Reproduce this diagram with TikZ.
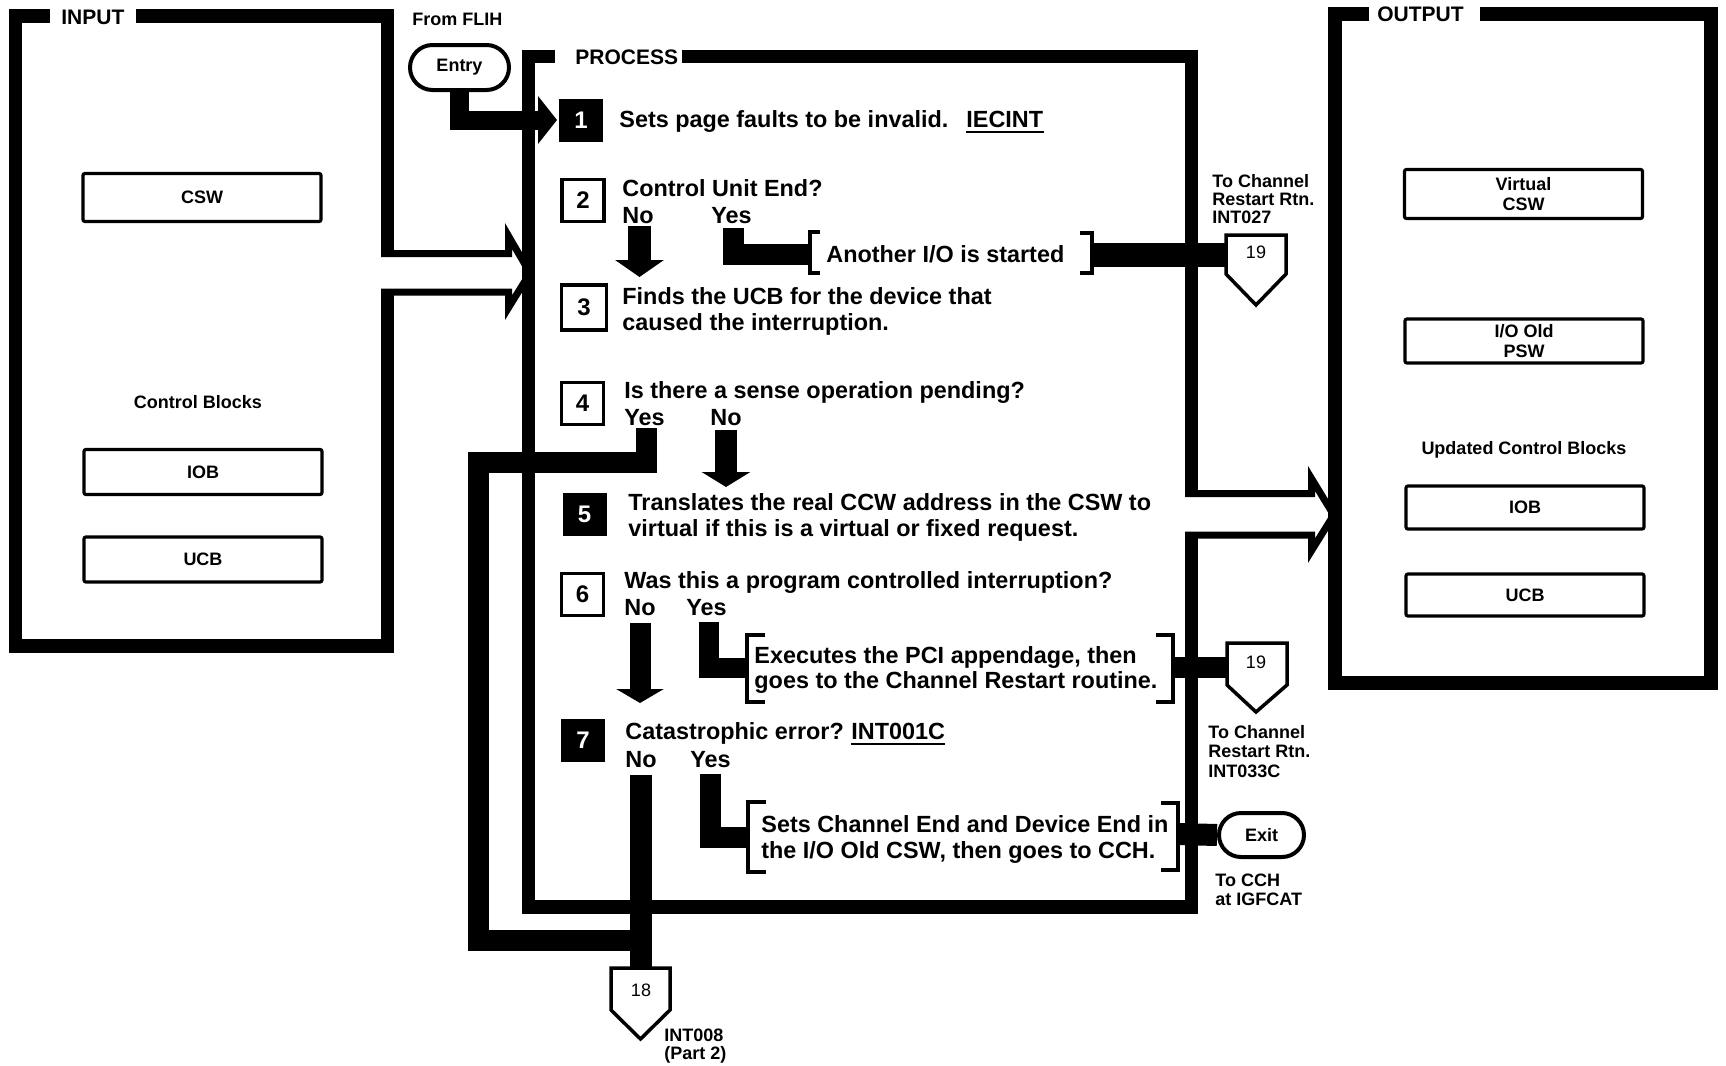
\documentclass[tikz,border=0pt]{standalone}
\usepackage{fontspec}
\setmainfont{Liberation Sans}
\usetikzlibrary{arrows.meta,shapes.misc,calc}
\begin{document}
\begin{tikzpicture}[x=0.5pt,y=-0.5pt,
  frame/.style={line width=6.75pt, line join=miter, line cap=butt},
  thinframe/.style={line width=3.5pt, line join=miter},
  lbl/.style={font=\fontsize{10.5}{12}\selectfont\bfseries, inner sep=0pt},
  small/.style={font=\fontsize{9}{10}\selectfont\bfseries, inner sep=0pt},
  clbl/.style={font=\fontsize{9}{10}\selectfont\bfseries, inner sep=0pt, anchor=base west},
  stxt/.style={font=\fontsize{11.7}{13}\selectfont\bfseries, inner sep=0pt, anchor=base west},
  databox/.style={draw, line width=1.6pt, rounded corners=1pt, minimum width=119pt, inner sep=0pt, font=\fontsize{9}{10}\selectfont\bfseries, align=center},
  wnum/.style={draw, line width=1.75pt, minimum width=21pt, minimum height=21pt, inner sep=0pt, font=\fontsize{12}{12}\selectfont\bfseries},
  bnum/.style={fill=black, text=white, minimum width=22pt, minimum height=21.5pt, inner sep=0pt, font=\fontsize{12}{12}\selectfont\bfseries},
  bar/.style={line width=10.5pt, line join=miter, line cap=butt},
  brk/.style={line width=1.6pt, line join=miter},
  term/.style={draw, fill=white, rounded rectangle, line width=2pt, inner sep=0pt, font=\fontsize{9}{10}\selectfont\bfseries},
  offp/.style={draw, line width=1.75pt, fill=white, line join=miter},
  ]
\useasboundingbox (0,0) rectangle (1726,1066);
\fill[white] (0,0) rectangle (1726,1066);

% ---------- INPUT frame with hollow arrow ----------
\draw[frame] (136,16) -- (387.5,16) -- (387.5,257);
\draw[frame] (387.5,289) -- (387.5,646) -- (15.5,646) -- (15.5,16) -- (50,16);
\draw[thinframe] (381,253.5) -- (508.5,253.5) -- (508.5,236) -- (530,273) -- (508.5,307.7) -- (508.5,292) -- (381,292);
\node[lbl, anchor=west] (inlbl) at (61,17) {INPUT};

% ---------- PROCESS frame with hollow arrow ----------
\draw[frame] (682,56.5) -- (1191.5,56.5) -- (1191.5,497);
\draw[frame] (1191.5,532) -- (1191.5,907) -- (528.5,907) -- (528.5,56.5) -- (555,56.5);
\draw[thinframe] (1185,493.5) -- (1311.5,493.5) -- (1311.5,478.5) -- (1333.7,515) -- (1311.5,550.7) -- (1311.5,535) -- (1185,535);
\node[lbl, anchor=west] (prlbl) at (575,57) {PROCESS};

% ---------- OUTPUT frame ----------
\draw[frame, line width=7pt] (1369,13.5) -- (1335,13.5) -- (1335,682.5) -- (1710.5,682.5) -- (1710.5,13.5) -- (1480,13.5);
\node[lbl, anchor=west] (outlbl) at (1377,14) {OUTPUT};

% ---------- data boxes ----------
\node[databox, minimum height=24pt] (cswin) at (202,197.5) {CSW};
\node[small] (cbin) at (198,402) {Control Blocks};
\node[databox, minimum height=22.5pt] (iobin) at (203,472) {IOB};
\node[databox, minimum height=22.5pt] (ucbin) at (203,559.5) {UCB};

\node[databox, minimum height=24.5pt] (vcsw) at (1523.5,194) {Virtual\\CSW};
\node[databox, minimum height=22pt] (oldpsw) at (1524,341) {I/O Old\\PSW};
\node[small] (cbout) at (1524,450) {Updated Control Blocks};
\node[databox, minimum height=21.5pt] (iobout) at (1525,507.5) {IOB};
\node[databox, minimum height=21pt] (ucbout) at (1525,595) {UCB};

% ---------- step numbers ----------
\node[bnum] (n1) at (581,120) {1};
\node[wnum] (n2) at (583,200.5) {2};
\node[wnum, minimum width=22.5pt, minimum height=22.5pt] (n3) at (584,307.5) {3};
\node[wnum] (n4) at (582.5,403.5) {4};
\node[bnum] (n5) at (584.5,514.5) {5};
\node[wnum] (n6) at (582.5,594.5) {6};
\node[bnum] (n7) at (583,740.5) {7};

% ---------- step texts ----------
\node[stxt] (t1) at (619,127) {Sets page faults to be invalid.};
\node[stxt] (t1c) at (966,127) {IECINT};
\draw[line width=1pt] ([yshift=-2.5pt]t1c.base west) -- ([yshift=-2.5pt]t1c.base east);
\node[stxt] (t2) at (622,196) {Control Unit End?};
\node[stxt] (no2) at (622,223) {No};
\node[stxt] (yes2) at (711,223) {Yes};
\node[stxt] (t2y) at (826,262) {Another I/O is started};
\node[stxt] (t3a) at (622,304) {Finds the UCB for the device that};
\node[stxt] (t3b) at (622,330) {caused the interruption.};
\node[stxt] (t4) at (624,398) {Is there a sense operation pending?};
\node[stxt] (yes4) at (624,425) {Yes};
\node[stxt] (no4) at (710,425) {No};
\node[stxt] (t5a) at (628,510) {Translates the real CCW address in the CSW to};
\node[stxt] (t5b) at (628,536) {virtual if this is a virtual or fixed request.};
\node[stxt] (t6) at (624,588) {Was this a program controlled interruption?};
\node[stxt] (no6) at (624,615) {No};
\node[stxt] (yes6) at (686,615) {Yes};
\node[stxt] (t6ya) at (754,663) {Executes the PCI appendage, then};
\node[stxt] (t6yb) at (754,688) {goes to the Channel Restart routine.};
\node[stxt] (t7) at (625,739) {Catastrophic error?};
\node[stxt] (t7c) at (851,739) {INT001C};
\draw[line width=1pt] ([yshift=-2.5pt]t7c.base west) -- ([yshift=-2.5pt]t7c.base east);
\node[stxt] (no7) at (625,767) {No};
\node[stxt] (yes7) at (690,767) {Yes};
\node[stxt] (t7ya) at (761,832) {Sets Channel End and Device End in};
\node[stxt] (t7yb) at (761,858) {the I/O Old CSW, then goes to CCH.};

% ---------- brackets ----------
\draw[brk] (820,232) -- (810,232) -- (810,273) -- (820,273);
\draw[brk] (1080,233) -- (1092,233) -- (1092,273) -- (1080,273);
\draw[brk] (765,635) -- (747,635) -- (747,702) -- (765,702);
\draw[brk] (1156,635) -- (1173,635) -- (1173,702) -- (1156,702);
\draw[brk] (766,802) -- (748,802) -- (748,872) -- (766,872);
\draw[brk] (1161,803) -- (1178,803) -- (1178,870) -- (1161,870);
\coordinate (b2l) at (810,254);
\coordinate (b2r) at (1092,255);
\coordinate (b6l) at (747,668);
\coordinate (b6r) at (1173,667.5);
\coordinate (b7l) at (748,837);
\coordinate (b7r) at (1178,834);

% ---------- terminals ----------
\node[small, anchor=west] (flih) at (412,19) {From FLIH};
\node[term, minimum width=49.5pt, minimum height=22.5pt] (entry) at (459.5,67.5) {Entry};

% ---------- connectors (thick bars) ----------
\draw[bar, line width=9.5pt, -{Triangle[width=23.5pt,length=9.5pt]}] (entry.south) |- (557,120);
\draw[bar, line width=11.5pt, -{Triangle[width=24pt,length=8.5pt]}] (639.5,226) -- (639.5,277);
\draw[bar] (733.5,228) |- (b2l);
\draw[bar, line width=12pt] (b2r) -- (1226,255);
\draw[bar] (646.5,428) -- (646.5,462) -- (478,462) -- (478,940) -- (640.5,940);
\draw[bar, line width=11pt, -{Triangle[width=24pt,length=7.5pt]}] (726,430) -- (726,487);
\draw[bar, line width=10.5pt, -{Triangle[width=23.5pt,length=7pt]}] (640,623) -- (640,703);
\draw[bar, line width=10pt] (708.5,622) |- (b6l);
\draw[bar] (b6r) -- (1227,667.5);
\draw[bar] (710,774) |- (b7l);
\draw[bar, line width=11pt] (640.5,775) -- (640.5,968);

\node[term, minimum width=42.5pt, minimum height=22pt] (exit) at (1261.5,835) {Exit};
\draw[bar, line width=11pt] (b7r) -- (exit.west);

% ---------- off-page connectors ----------
\draw[offp] (1226,235) -- (1286,235) -- (1286,274) -- (1256,305) -- (1226,274) -- cycle;
\node[small, font=\fontsize{9}{10}\selectfont] (c19a) at (1256,252) {19};
\draw[offp] (1227,643) -- (1287,643) -- (1287,685) -- (1256,712) -- (1227,685) -- cycle;
\node[small, font=\fontsize{9}{10}\selectfont] (c19b) at (1256,662) {19};
\draw[offp] (611,968) -- (670,968) -- (670,1010) -- (640.5,1039) -- (611,1010) -- cycle;
\node[small, font=\fontsize{9}{10}\selectfont] (c18) at (641,990) {18};

% ---------- connector labels ----------
\node[clbl] at (1212,187) {To Channel};
\node[clbl] at (1212,205) {Restart Rtn.};
\node[clbl] at (1212,223) {INT027};
\node[clbl] at (1208,738) {To Channel};
\node[clbl] at (1208,757) {Restart Rtn.};
\node[clbl] at (1208,777) {INT033C};
\node[clbl] at (1215,886) {To CCH};
\node[clbl] at (1215,905) {at IGFCAT};
\node[clbl] at (664,1041) {INT008};
\node[clbl] at (664,1059) {(Part 2)};
\end{tikzpicture}
\end{document}
